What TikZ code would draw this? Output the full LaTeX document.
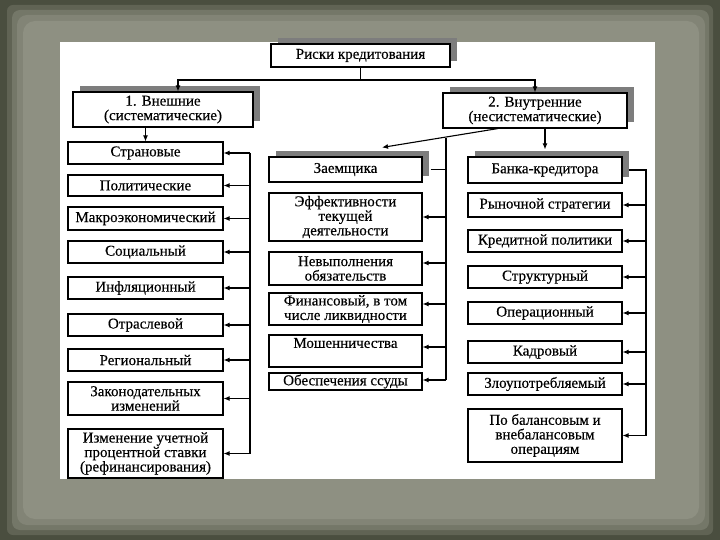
\documentclass[tikz,border=0pt]{standalone}
\usepackage{fontspec}
\setmainfont{Liberation Serif}[FakeBold=0.35]
\usetikzlibrary{arrows.meta,shadows}
\newcommand\boxfont{\fontsize{15}{14.5}\selectfont}
\definecolor{frameDark}{RGB}{74,78,63}
\definecolor{frameMidA}{RGB}{96,99,84}
\definecolor{frameMidB}{RGB}{116,119,104}
\definecolor{frameMidC}{RGB}{130,132,118}
\definecolor{frameInner}{RGB}{142,144,130}
\definecolor{shadowgray}{RGB}{125,125,125}
\tikzset{
  box/.style={draw, line width=1.1pt, fill=white, align=center, inner sep=1pt, font=\boxfont, text=black},
  shadowed/.style={general shadow={fill=shadowgray, shadow xshift=7pt, shadow yshift=6pt}},
  colL/.style={box, minimum width=155pt},
  colM/.style={box, minimum width=153pt},
  colR/.style={box, minimum width=154pt},
  ln/.style={line width=1.1pt},
  arr/.style={line width=1.1pt, -{Latex[length=6pt,width=5pt]}}
}
\begin{document}
\begin{tikzpicture}[x=1pt,y=-1pt]
\useasboundingbox (0,0) rectangle (720,540);
% frame
\fill[frameDark] (0,0) rectangle (720,540);
\fill[frameMidA, rounded corners=6pt] (7,5) rectangle (713,535);
\fill[frameMidB, rounded corners=8pt] (12,10) rectangle (709,530);
\fill[frameMidC, rounded corners=10pt] (17,15) rectangle (705,525);
\fill[frameInner, rounded corners=12pt] (23,21) rectangle (699,519);
\fill[white] (60,42) rectangle (655,479);

% top level
\node[box, shadowed, minimum width=179, minimum height=23] (top) at (360.5,55.5) {Риски кредитования};
\node[box, shadowed, minimum width=180, minimum height=35] (ext) at (163,109.5) {1. Внешние\\(систематические)};
\node[box, shadowed, minimum width=184, minimum height=35] (int) at (535,110.5) {2. Внутренние\\(несистематические)};

% left column
\node[colL, minimum height=22] (c1) at (145.5,153) {Страновые};
\node[colL, minimum height=21] (c2) at (145.5,185.5) {Политические};
\node[colL, minimum height=23] (c3) at (145.5,218.5) {Макроэкономический};
\node[colL, minimum height=22] (c4) at (145.5,252) {Социальный};
\node[colL, minimum height=22] (c5) at (145.5,288) {Инфляционный};
\node[colL, minimum height=22] (c6) at (145.5,325) {Отраслевой};
\node[colL, minimum height=22] (c7) at (145.5,360) {Региональный};
\node[colL, minimum height=33] (c8) at (145.5,398.5) {Законодательных\\изменений};
\node[colL, minimum height=49] (c9) at (145.5,453.5) {Изменение учетной\\процентной ставки\\(рефинансирования)};

% middle column
\node[colM, shadowed, minimum height=25] (zaem) at (345.5,169.5) {Заемщика};
\node[colM, minimum height=48] (m2) at (345.5,217) {Эффективности\\текущей\\деятельности};
\node[colM, minimum height=33] (m3) at (345.5,268.5) {Невыполнения\\обязательств};
\node[colM, minimum height=32] (m4) at (345.5,309) {Финансовый, в том\\числе ликвидности};
\node[colM, minimum height=32] (m5) at (345.5,351) {\raisebox{0pt}[\height][\dimexpr\depth+16pt\relax]{Мошенничества}};
\node[colM, minimum height=17] (m6) at (345.5,381.5) {Обеспечения ссуды};

% right column
\node[colR, shadowed, minimum height=26] (bank) at (545,170) {Банка-кредитора};
\node[colR, minimum height=24] (r1) at (545,205) {Рыночной стратегии};
\node[colR, minimum height=22] (r2) at (545,241) {Кредитной политики};
\node[colR, minimum height=22] (r3) at (545,277) {Структурный};
\node[colR, minimum height=22] (r4) at (545,313) {Операционный};
\node[colR, minimum height=22] (r5) at (545,352) {Кадровый};
\node[colR, minimum height=22] (r6) at (545,384) {Злоупотребляемый};
\node[colR, minimum height=53] (r7) at (545,435.5) {По балансовым и\\внебалансовым\\операциям};

% top connectors
\draw[ln] (top.south) -- ++(0,12.5) coordinate (hub);
\draw[arr] (hub) -| ([xshift=15pt]ext.north);
\draw[arr] (hub) -| (int.north);
\draw[arr] (ext.south -| c1.north) -- (c1.north);
\draw[arr] (int.south -| bank.north) -- ([yshift=7pt]bank.north);
\draw[arr] ([xshift=-37pt]int.south) -- ([xshift=36.5pt,yshift=9pt]zaem.north);

% left bus
\coordinate (lb) at (250,0);
\draw[ln] (lb |- c1.east) -- (lb |- c9.east);
\foreach \n in {c1,c2,c3,c4,c5,c6,c7,c8,c9}
  \draw[arr] (lb |- \n.east) -- (\n.east);

% middle bus
\coordinate (mb) at (446,138);
\coordinate (t2) at (m2.east);
\coordinate (t3) at ([yshift=5.5pt]m3.east);
\coordinate (t4) at ([yshift=5pt]m4.east);
\coordinate (t5) at ([yshift=4pt]m5.east);
\coordinate (t6) at ([yshift=1.5pt]m6.east);
\draw[ln] (mb) -- (mb |- t6);
\draw[ln] ([xshift=8pt]zaem.east) -- (mb |- zaem.east);
\foreach \n in {t2,t3,t4,t5,t6}
  \draw[arr] (mb |- \n) -- (\n);

% right bus
\coordinate (rb) at (646,0);
\draw[ln] ([xshift=6pt]bank.east) -| (rb |- r7.east);
\foreach \n in {r1,r2,r3,r4,r5,r6,r7}
  \draw[arr] (rb |- \n.east) -- (\n.east);
\end{tikzpicture}
\end{document}
